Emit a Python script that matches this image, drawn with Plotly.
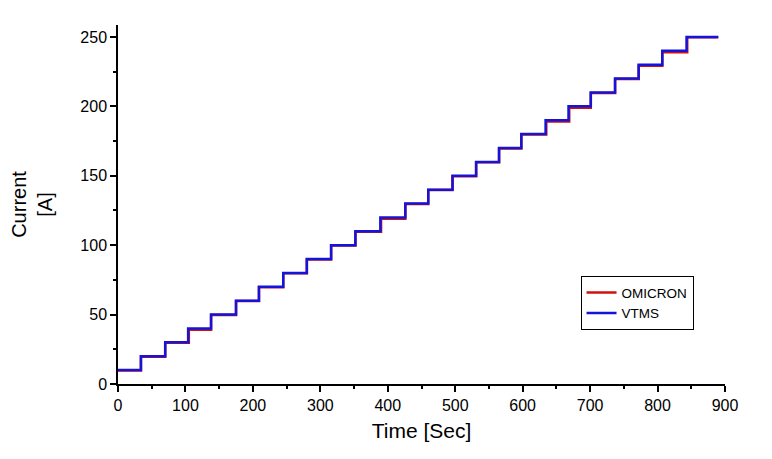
import plotly.graph_objects as go

# Step change times (s) and current levels (A)
step_times = [0, 34, 70, 104, 138, 175, 209, 245, 280, 316, 352, 389, 426,
              460, 496, 531, 565, 598, 634, 668, 701, 737, 772, 807, 843]
end_time = 890
levels = [10, 20, 30, 40, 50, 60, 70, 80, 90, 100, 110, 120, 130,
          140, 150, 160, 170, 180, 190, 200, 210, 220, 230, 240, 250]

omicron_times = [0, 34, 70, 105, 138, 175, 209, 245, 280, 316, 352, 390, 426,
                 460, 496, 531, 565, 598, 635, 669, 701, 737, 772, 807, 844]
omicron_levels = [9.7, 19.7, 29.7, 39.0, 49.7, 59.7, 69.7, 79.7, 89.7, 99.7, 109.7, 119.0, 129.7,
                  139.7, 149.7, 159.7, 169.7, 179.7, 189.0, 199.0, 209.7, 219.7, 229.3, 239.0, 249.7]

def step_xy(times, vals, tend):
    xs, ys = [], []
    for i, (t, v) in enumerate(zip(times, vals)):
        t_next = times[i + 1] if i + 1 < len(times) else tend
        xs += [t, t_next]
        ys += [v, v]
    return xs, ys

ox, oy = step_xy(omicron_times, omicron_levels, end_time)
vx, vy = step_xy(step_times, levels, end_time)

fig = go.Figure()
fig.add_trace(go.Scatter(x=ox, y=oy, mode="lines", name="OMICRON",
                         line=dict(color="#d01010", width=2.5)))
fig.add_trace(go.Scatter(x=vx, y=vy, mode="lines", name="VTMS",
                         line=dict(color="#1414d8", width=2.5)))

font_family = "Liberation Sans, Arial, sans-serif"
fig.update_layout(
    width=772, height=459,
    margin=dict(l=118, r=47, t=25, b=75),
    plot_bgcolor="white", paper_bgcolor="white",
    font=dict(family=font_family, color="black", size=16),
    showlegend=True,
    legend=dict(x=0.762, y=0.30, xanchor="left", yanchor="top",
                bordercolor="black", borderwidth=1, bgcolor="white",
                font=dict(size=13.5), tracegroupgap=0, itemwidth=30),
    xaxis=dict(range=[0, 900], tickvals=[0, 100, 200, 300, 400, 500, 600, 700, 800, 900],
               showgrid=False, zeroline=False, showline=True, linecolor="black", linewidth=1.5,
               ticks="outside", ticklen=6, tickwidth=1.5, tickcolor="black",
               minor=dict(tickvals=[50, 150, 250, 350, 450, 550, 650, 750, 850],
                          ticks="outside", ticklen=3, tickwidth=1.5, tickcolor="black"),
               title=dict(text="Time [Sec]", font=dict(size=21), standoff=10)),
    yaxis=dict(range=[0, 258.6], tickvals=[0, 50, 100, 150, 200, 250],
               showgrid=False, zeroline=False, showline=True, linecolor="black", linewidth=1.5,
               ticks="outside", ticklen=6, tickwidth=1.5, tickcolor="black",
               minor=dict(tickvals=[25, 75, 125, 175, 225],
                          ticks="outside", ticklen=3, tickwidth=1.5, tickcolor="black"),
               title=dict(text="Current<br>[A]", font=dict(size=20), standoff=22)),
)

fig.write_html("out.html")
